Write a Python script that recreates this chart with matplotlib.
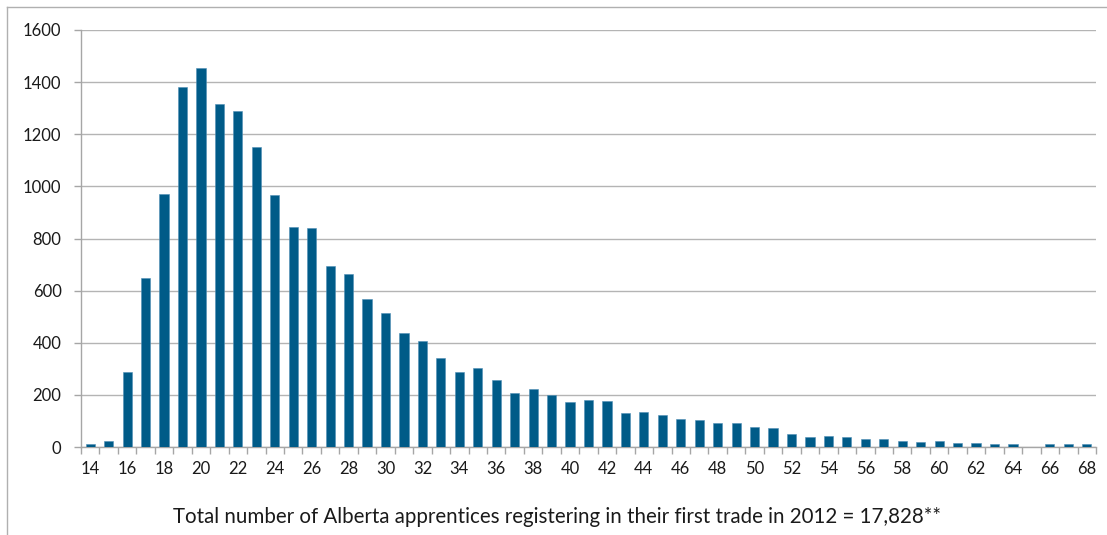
import numpy as np
import matplotlib
matplotlib.use('Agg')
import matplotlib.pyplot as plt
from matplotlib.lines import Line2D

# age at first trade registration, Alberta 2012
ages = list(range(14, 69))
counts = [10, 24, 289, 650, 971, 1381, 1453, 1315, 1289, 1151,
          967, 846, 842, 695, 662, 569, 514, 437, 408, 341,
          289, 304, 256, 208, 222, 200, 173, 181, 177, 130,
          136, 121, 107, 103, 93, 93, 78, 73, 48, 37,
          42, 37, 29, 29, 23, 19, 23, 14, 14, 10,
          10, 0, 10, 10, 10]
tick_labels = [str(a) for a in ages[::2]]
y_ticks = [0, 200, 400, 600, 800, 1000, 1200, 1400, 1600]
caption = 'Total number of Alberta apprentices registering in their first trade in 2012 = 17,828**'

plt.rcParams['font.family'] = ['Lato', 'DejaVu Sans']

fig = plt.figure(figsize=(11.07, 5.35), dpi=100)
ax = fig.add_axes([81 / 1107, 1 - 447 / 535, 1015 / 1107, 417 / 535])

ax.bar(ages, counts, width=0.5, color='#005b88', edgecolor='#4f8fb5', linewidth=0.4, zorder=3)

ax.set_xlim(ages[0] - 0.5, ages[-1] + 0.5)
ax.set_ylim(y_ticks[0], y_ticks[-1])

ax.set_yticks(y_ticks)
ax.yaxis.grid(True, color='#b4b4b4', linewidth=1.0, zorder=0)
ax.tick_params(axis='y', length=5, width=1, color='#a6a6a6', pad=9, labelsize=12, labelcolor='#1a1a1a')

ax.set_xticks(ages[::2])
ax.set_xticklabels(tick_labels)
ax.set_xticks(np.arange(ages[0] - 0.5, ages[-1] + 1), minor=True)
ax.tick_params(axis='x', which='major', length=0, pad=10, labelsize=12, labelcolor='#1a1a1a')
ax.tick_params(axis='x', which='minor', length=5, width=1, color='#a6a6a6')

for side in ['top', 'right']:
    ax.spines[side].set_visible(False)
for side in ['left', 'bottom']:
    ax.spines[side].set_color('#a6a6a6')
    ax.spines[side].set_linewidth(1)

fig.text(0.503, 1 - 517 / 535, caption, fontsize=14.8, color='#1a1a1a', ha='center', va='center')

# partial frame round the chart (top and left only are visible)
fig.add_artist(Line2D([7 / 1107, 1], [1 - 7 / 535, 1 - 7 / 535], color='#b0b0b0', linewidth=1, transform=fig.transFigure))
fig.add_artist(Line2D([7 / 1107, 7 / 1107], [0, 1 - 7 / 535], color='#b0b0b0', linewidth=1, transform=fig.transFigure))

fig.savefig('out.png', dpi=100, facecolor='white')
